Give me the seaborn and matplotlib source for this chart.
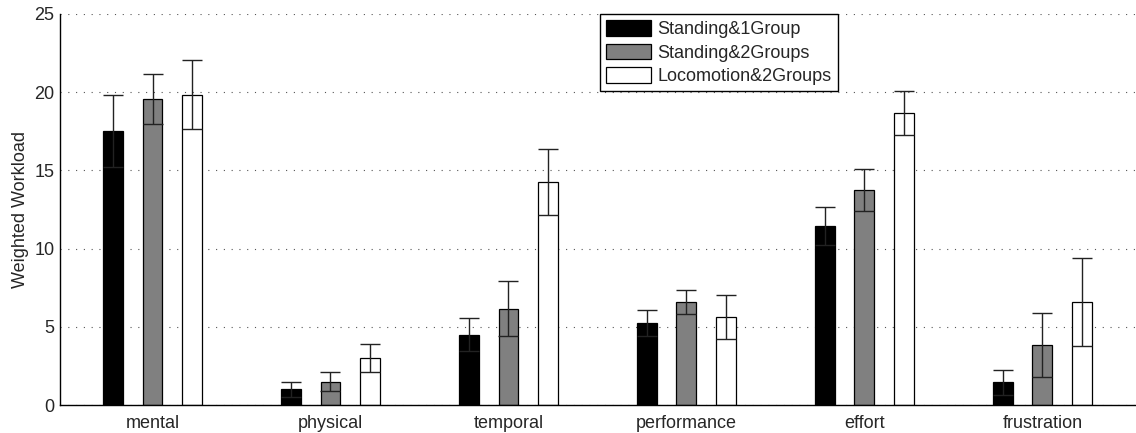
import numpy as np
import pandas as pd
import matplotlib
matplotlib.use("Agg")
import matplotlib.pyplot as plt
import seaborn as sns

categories = ["mental", "physical", "temporal", "performance", "effort", "frustration"]
groups = ["Standing&1Group", "Standing&2Groups", "Locomotion&2Groups"]
standing_1group = [17.5, 1.0, 4.5, 5.25, 11.45, 1.45]
standing_2groups = [19.55, 1.5, 6.15, 6.6, 13.75, 3.85]
locomotion_2groups = [19.85, 3.0, 14.25, 5.65, 18.65, 6.6]
err_standing_1group = [2.3, 0.5, 1.05, 0.85, 1.2, 0.8]
err_standing_2groups = [1.6, 0.6, 1.75, 0.75, 1.35, 2.05]
err_locomotion_2groups = [2.2, 0.9, 2.1, 1.4, 1.4, 2.8]

values = [standing_1group, standing_2groups, locomotion_2groups]
errors = [err_standing_1group, err_standing_2groups, err_locomotion_2groups]
colors = ["black", "#808080", "white"]

rows = []
for g, vals in zip(groups, values):
    for c, v in zip(categories, vals):
        rows.append({"category": c, "group": g, "value": v})
df = pd.DataFrame(rows)

sns.set_style("white")
plt.rcParams["font.family"] = ["Liberation Sans", "DejaVu Sans"]

fig = plt.figure(figsize=(11.36, 4.33), dpi=100)
ax = fig.add_axes([60 / 1136, 28 / 433, 1 - 60 / 1136 - 0.001, (405 - 14) / 433])

sns.barplot(data=df, x="category", y="value", hue="group", order=categories,
            hue_order=groups, palette=colors, edgecolor="black", linewidth=0.9,
            width=0.67, gap=0.5, errorbar=None, ax=ax, saturation=1)

for cont, errs in zip(ax.containers, errors):
    xs = [p.get_x() + p.get_width() / 2 for p in cont]
    hs = [p.get_height() for p in cont]
    ax.errorbar(xs, hs, yerr=errs, fmt="none", ecolor="#222222",
                elinewidth=1.0, capsize=7, capthick=1.0, zorder=5)

ax.set_xlim(-0.52, 5.52)
ax.set_ylim(0, 25)
ax.set_yticks([0, 5, 10, 15, 20, 25])
ax.yaxis.grid(True, linestyle=(0, (1, 6)), color="#555555", linewidth=0.8)
ax.set_axisbelow(True)
ax.set_xlabel("")
ax.set_ylabel("Weighted Workload", fontsize=13, labelpad=4)
ax.tick_params(axis="y", labelsize=13, length=0, pad=4)
ax.tick_params(axis="x", labelsize=13, length=0, pad=7)
for s in ["top", "right"]:
    ax.spines[s].set_visible(False)
for s in ["left", "bottom"]:
    ax.spines[s].set_color("black")
    ax.spines[s].set_linewidth(1.0)

leg = ax.legend(loc="upper left", bbox_to_anchor=(0.502, 1.0), borderaxespad=0,
                fontsize=13, handlelength=2.5, handleheight=0.95,
                labelspacing=0.3, handletextpad=0.35, borderpad=0.35,
                fancybox=False, frameon=True, framealpha=1)
leg.get_frame().set_edgecolor("black")
leg.get_frame().set_linewidth(1.0)

fig.savefig("out.png", dpi=100)
